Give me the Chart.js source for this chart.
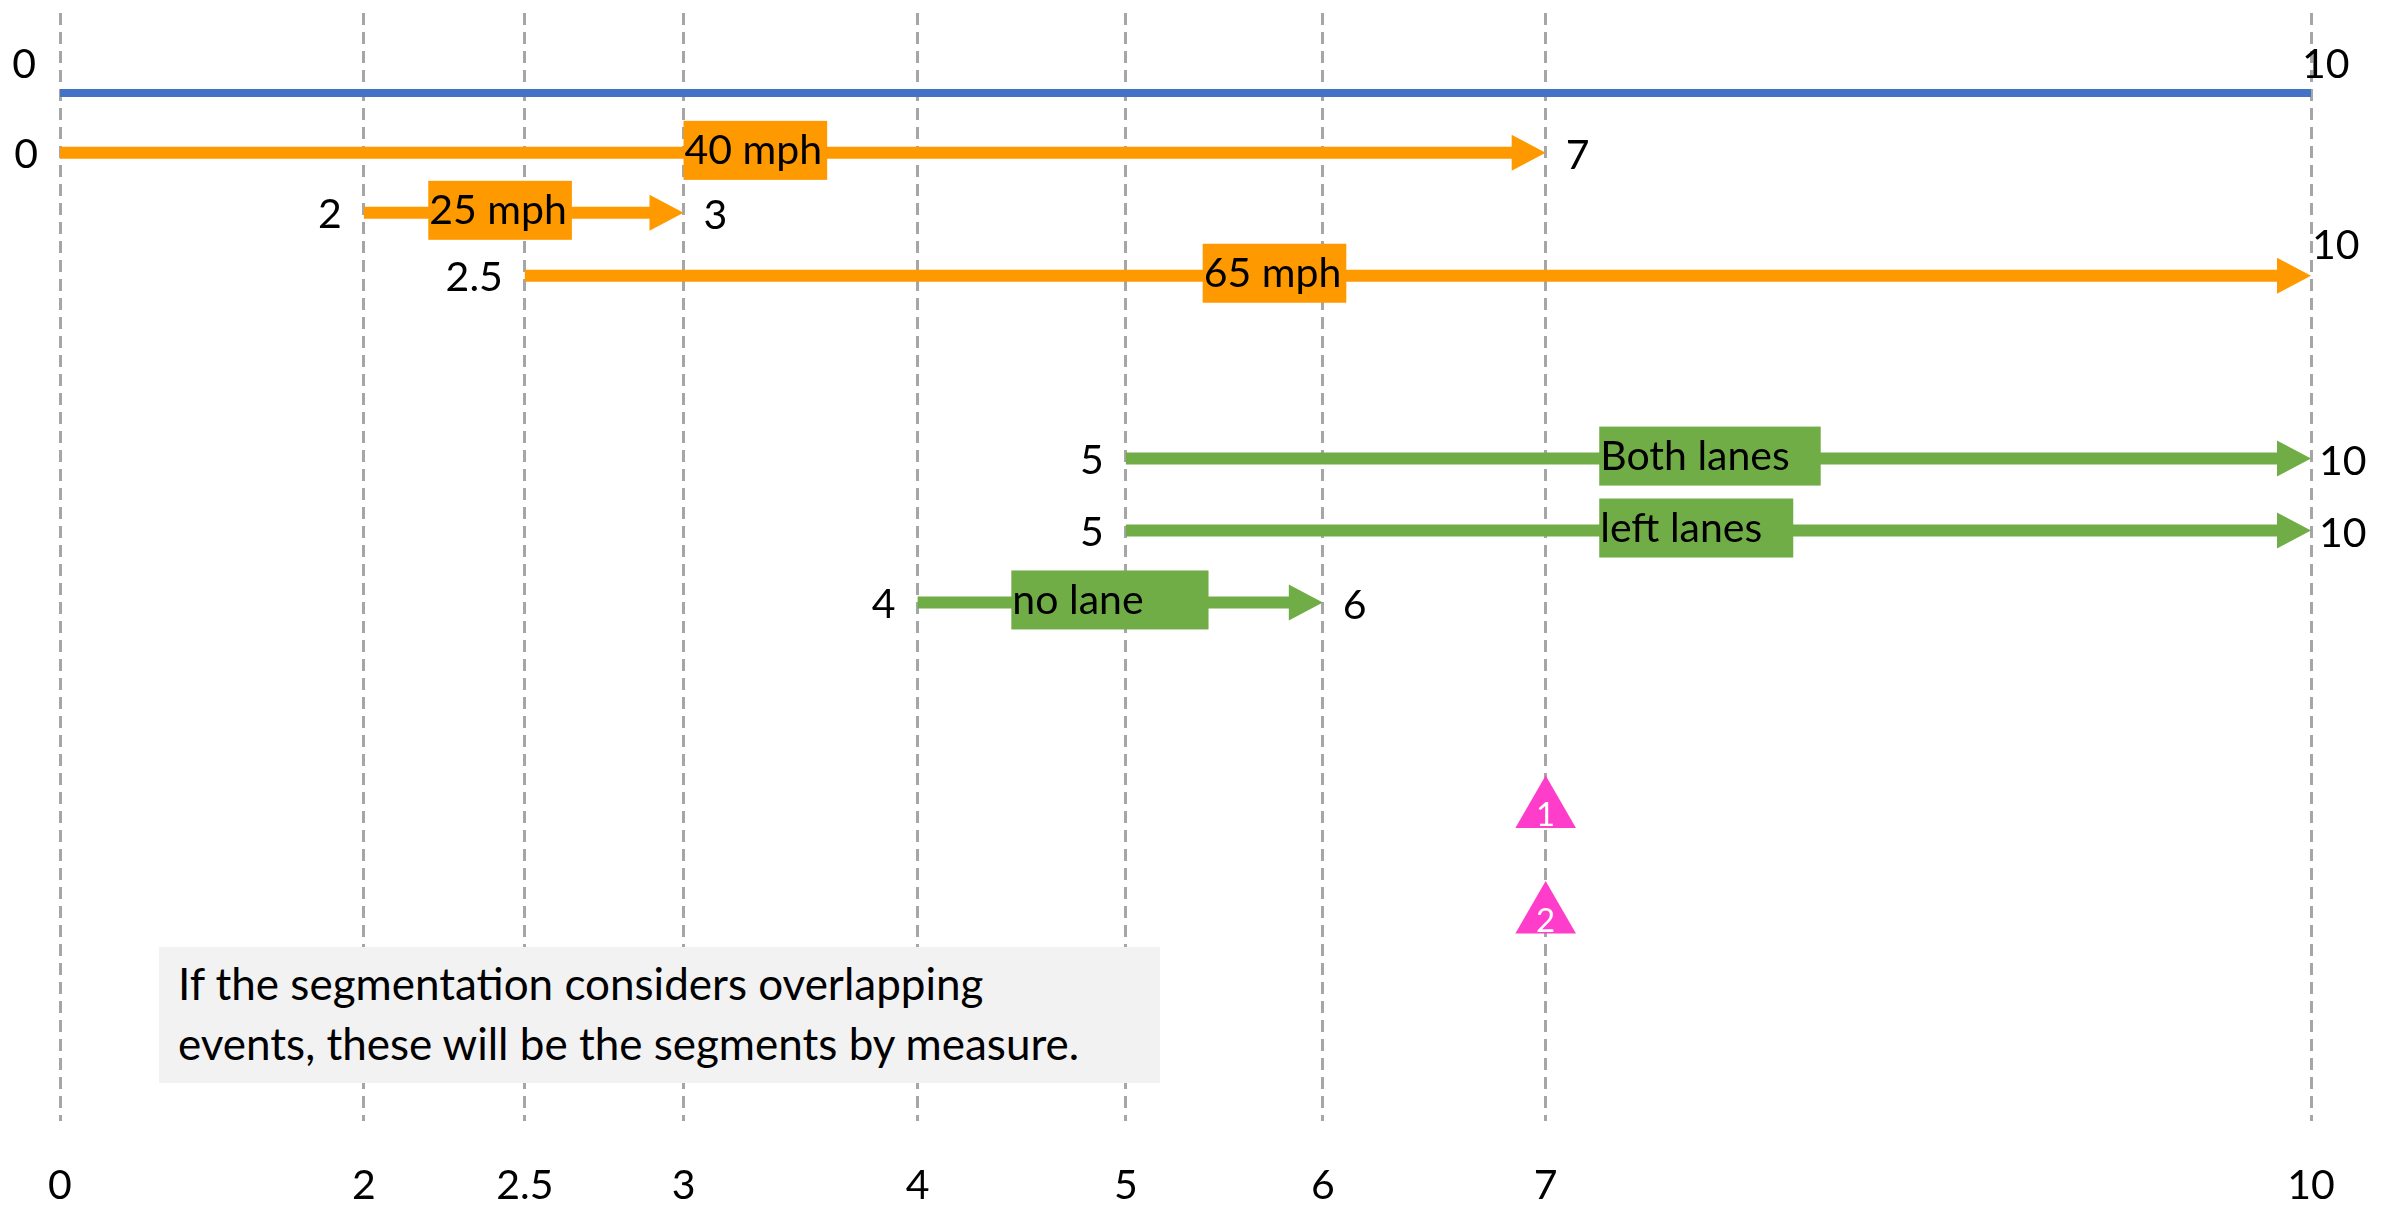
<!DOCTYPE html>
<html>
<head>
<meta charset="utf-8">
<script src="https://cdn.jsdelivr.net/npm/chart.js@4.4.1/dist/chart.umd.min.js"></script>
<style>
  html, body { margin: 0; padding: 0; background: #fff; }
  #wrap { position: relative; width: 2397px; height: 1210px; }
  #note {
    position: absolute; left: 159px; top: 947px;
    padding: 6px 0 0 19px; box-sizing: content-box; width: 982px; height: 130px;
    background: #F2F2F2; font-family: Lato, 'Open Sans', sans-serif; font-size: 44px;
    line-height: 60px; color: #000; white-space: nowrap;
  }
</style>
</head>
<body>
<div id="wrap">
  <canvas id="chart" width="2397" height="1210"></canvas>
  <div id="note">If the segmentation considers overlapping<br>events, these will be the segments by measure.</div>
</div>
<script>
// ------------------------------------------------------------
//  Linear referencing events along a route (measure 0 - 10)
// ------------------------------------------------------------

const tickValues = [0, 2, 2.5, 3, 4, 5, 6, 7, 10];

const eventNames = ['route', '40 mph', '25 mph', '65 mph', 'Both lanes', 'left lanes', 'no lane'];
const eventGroup = ['route', 'speed', 'speed', 'speed', 'lanes', 'lanes', 'lanes'];
const eventFrom  = [0, 0, 2, 2.5, 5, 5, 4];
const eventTo    = [10, 7, 3, 10, 10, 10, 6];
const eventTrack = [1, 2, 3, 4.05, 7.1, 8.3, 9.5];
const labelAt    = [null, 3, 2.2, 5.39, 7.21, 7.21, 4.45];

const pointNames   = ['1', '2'];
const pointMeasure = [7, 7];
const pointTrack   = [12.97, 14.73];

// the measure axis in the drawing is schematic, not to scale
const axisStops     = [0, 2, 2.5, 3, 4, 5, 6, 7, 10];
const axisFractions = [0, 0.135, 0.2065, 0.277, 0.381, 0.4735, 0.561, 0.66, 1];

const groupStyle = {
    route: { color: '#4472C4', width: 8,  arrow: false, labels: 'raised' },
    speed: { color: '#FF9900', width: 12, arrow: true,  labels: 'side' },
    lanes: { color: '#70AD47', width: 12, arrow: true,  labels: 'side' },
};
const boxPadRight = [0, 4, 4, 4, 30, 30, 64];
const FONT = 'Lato, "Open Sans", sans-serif';
const ARROW_LEN = 34, ARROW_HALF = 18;

class MeasureScale extends Chart.LinearScale {
    getPixelForValue(value) {
        if (value === null || value === undefined) return NaN;
        const s = this.options.stops, f = this.options.fractions;
        let i = 1;
        while (i < s.length - 1 && value > s[i]) i++;
        const t = (value - s[i - 1]) / (s[i] - s[i - 1]);
        return this.getPixelForDecimal(f[i - 1] + t * (f[i] - f[i - 1]));
    }
    getValueForPixel(pixel) {
        const d = this.getDecimalForPixel(pixel);
        const s = this.options.stops, f = this.options.fractions;
        let i = 1;
        while (i < f.length - 1 && d > f[i]) i++;
        const t = (d - f[i - 1]) / (f[i] - f[i - 1]);
        return s[i - 1] + t * (s[i] - s[i - 1]);
    }
}
MeasureScale.id = 'measure';
MeasureScale.defaults = Chart.LinearScale.defaults;
Chart.register(MeasureScale);

const datasets = eventNames.map((name, i) => {
    const st = groupStyle[eventGroup[i]];
    return {
        label: name,
        data: [{ x: eventFrom[i], y: eventTrack[i] }, { x: eventTo[i], y: eventTrack[i] }],
        borderColor: st.color,
        borderWidth: st.width,
        borderCapStyle: 'butt',
        pointRadius: 0,
        fill: false,
        tension: 0,
        eventIndex: i,
    };
});

datasets.push({
    label: 'points',
    data: pointMeasure.map((m, i) => ({ x: m, y: pointTrack[i] })),
    showLine: false,
    pointStyle: 'triangle',
    pointRadius: 35,
    pointHoverRadius: 35,
    pointBackgroundColor: '#FF3DCB',
    pointBorderWidth: 0,
    isPoints: true,
});

const isArrow = (ds) => ds.eventIndex !== undefined && groupStyle[eventGroup[ds.eventIndex]].arrow;

const eventDecor = {
    id: 'eventDecor',
    // keep the shaft from poking out past the arrow tip
    beforeDatasetDraw(chart, args) {
        if (!isArrow(chart.data.datasets[args.index])) return;
        const end = args.meta.data[1];
        const ctx = chart.ctx;
        ctx.save();
        ctx.beginPath();
        ctx.rect(0, 0, end.x - ARROW_LEN + 2, chart.height);
        ctx.clip();
    },
    afterDatasetDraw(chart, args) {
        if (isArrow(chart.data.datasets[args.index])) chart.ctx.restore();
    },
    afterDatasetsDraw(chart) {
        const ctx = chart.ctx;
        const xs = chart.scales.x;
        ctx.save();
        ctx.textBaseline = 'middle';
        chart.data.datasets.forEach((ds, di) => {
            const meta = chart.getDatasetMeta(di);
            if (ds.isPoints) {
                ctx.fillStyle = '#FFFFFF';
                ctx.textAlign = 'center';
                ctx.font = '33px ' + FONT;
                meta.data.forEach((pt, k) => ctx.fillText(pointNames[k], pt.x, pt.y + 5));
                return;
            }
            ctx.font = '41px ' + FONT;
            const i = ds.eventIndex;
            const st = groupStyle[eventGroup[i]];
            const a = meta.data[0], b = meta.data[1];

            if (st.arrow) {
                ctx.fillStyle = st.color;
                ctx.beginPath();
                ctx.moveTo(b.x, b.y);
                ctx.lineTo(b.x - ARROW_LEN, b.y - ARROW_HALF);
                ctx.lineTo(b.x - ARROW_LEN, b.y + ARROW_HALF);
                ctx.closePath();
                ctx.fill();
            }

            // label box sitting on the line
            if (labelAt[i] !== null) {
                const bx = xs.getPixelForValue(labelAt[i]);
                const w = ctx.measureText(eventNames[i]).width + 2 + boxPadRight[i];
                ctx.fillStyle = st.color;
                ctx.fillRect(bx, a.y - 32, w, 59);
                ctx.fillStyle = '#000';
                ctx.textAlign = 'left';
                ctx.fillText(eventNames[i], bx + 1, a.y - 2);
            }

            // from / to measures
            ctx.fillStyle = '#000';
            const fromTxt = String(eventFrom[i]), toTxt = String(eventTo[i]);
            if (st.labels === 'raised') {
                ctx.textAlign = 'right';
                ctx.fillText(fromTxt, a.x - 24, a.y - 28);
                ctx.textAlign = 'left';
                ctx.fillText(toTxt, b.x - 9, b.y - 28);
            } else {
                ctx.textAlign = 'right';
                ctx.fillText(fromTxt, a.x - 22, a.y + 2);
                ctx.textAlign = 'left';
                if (eventTo[i] === 10 && eventGroup[i] === 'speed') {
                    ctx.fillText(toTxt, b.x + 1, b.y - 30);
                } else {
                    ctx.fillText(toTxt, b.x + (eventTo[i] === 10 ? 8 : 20), b.y + 3);
                }
            }
        });
        ctx.restore();
    }
};

new Chart(document.getElementById('chart'), {
    type: 'line',
    data: { datasets },
    plugins: [eventDecor],
    options: {
        responsive: false,
        devicePixelRatio: 1,
        animation: false,
        events: [],
        layout: { autoPadding: false, padding: { left: 60, right: 86, top: 13, bottom: 0 } },
        plugins: { legend: { display: false }, tooltip: { enabled: false } },
        scales: {
            x: {
                type: 'measure',
                stops: axisStops,
                fractions: axisFractions,
                min: 0,
                max: 10,
                z: 1,
                afterBuildTicks: (scale) => { scale.ticks = tickValues.map(v => ({ value: v })); },
                afterFit: (scale) => { scale.height = 89; },
                ticks: {
                    autoSkip: false,
                    maxRotation: 0,
                    padding: 40,
                    color: '#000',
                    font: { size: 41, family: FONT },
                    callback: (v) => String(v),
                },
                grid: {
                    color: '#A6A6A6',
                    lineWidth: 3,
                    drawTicks: false,
                    tickBorderDash: [12, 7],
                },
                border: { display: false, dash: [12, 7] },
            },
            y: {
                type: 'linear',
                reverse: true,
                min: -0.333,
                max: 18.15,
                display: false,
            },
        },
    },
});
</script>
</body>
</html>
